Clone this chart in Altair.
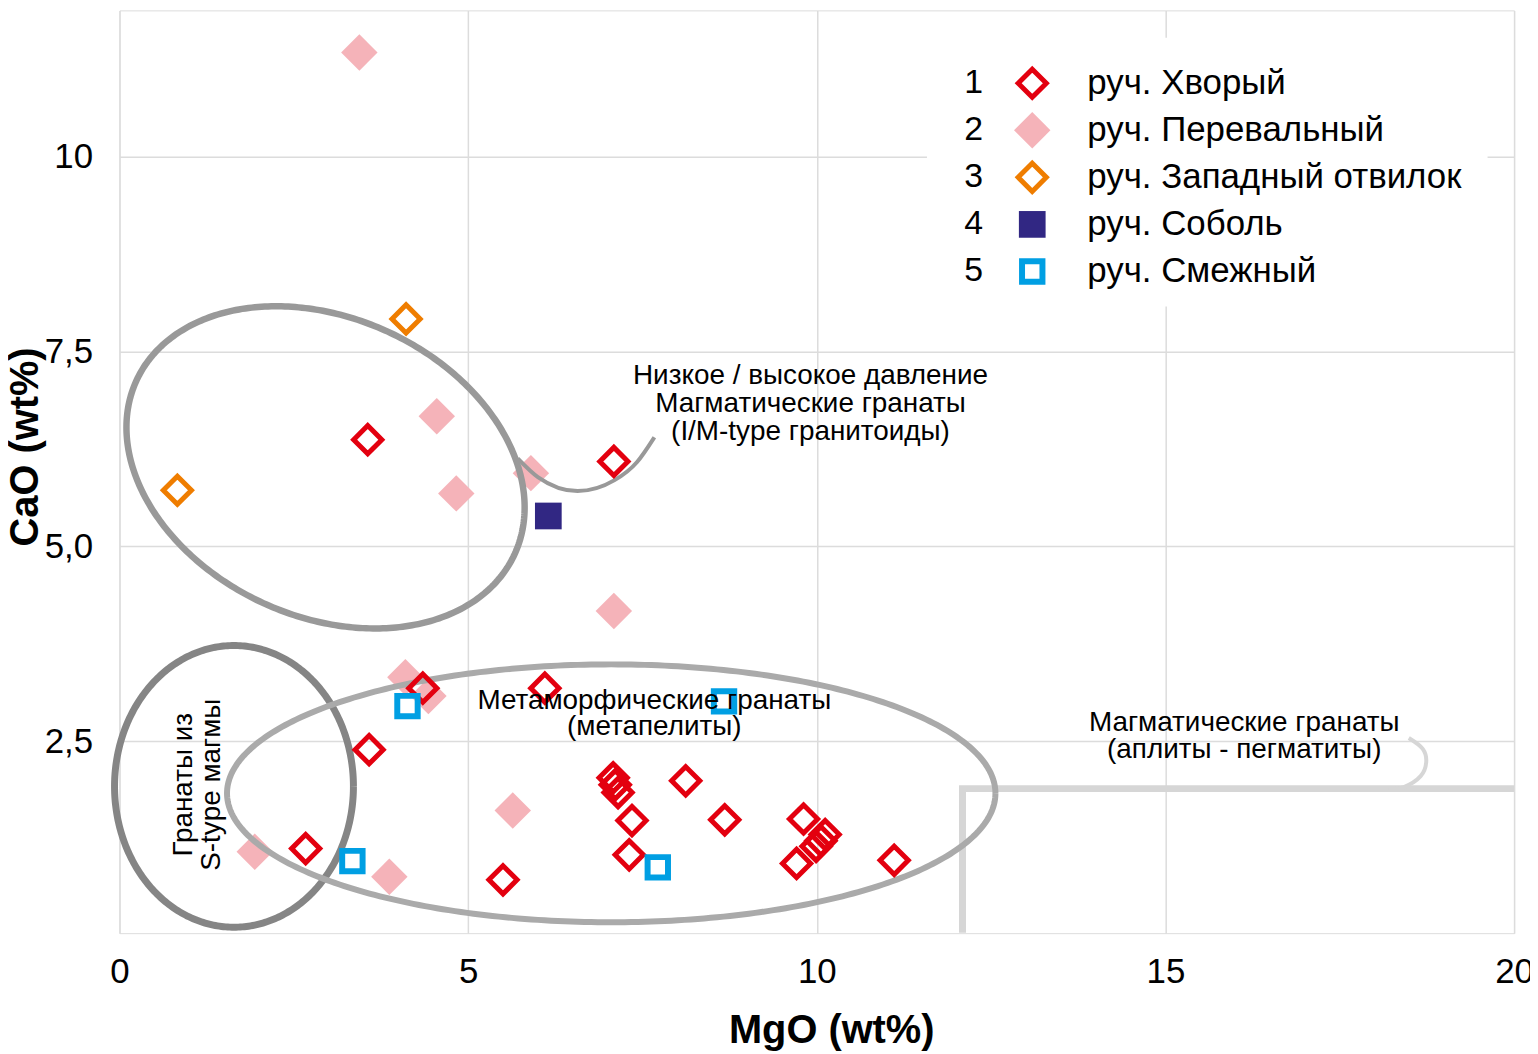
import altair as alt
import numpy as np
import pandas as pd

# ---------------- values ----------------
# 1 руч. Хворый
khv_mgo = [3.56, 7.09, 6.10, 4.35, 3.58, 2.67, 5.50, 7.08, 7.11, 7.15, 7.35, 7.31,
           8.12, 8.68, 9.81, 10.12, 10.06, 9.99, 9.71, 11.11]
khv_cao = [6.37, 6.09, 3.18, 3.18, 2.39, 1.12, 0.72, 2.03, 1.94, 1.84, 1.48, 1.04,
           1.99, 1.49, 1.50, 1.30, 1.22, 1.15, 0.93, 0.97]
# 2 руч. Перевальный
per_mgo = [3.44, 4.55, 4.83, 5.90, 7.09, 4.10, 4.43, 5.64, 3.87, 1.94]
per_cao = [11.34, 6.67, 5.68, 5.94, 4.17, 3.32, 3.08, 1.61, 0.76, 1.08]
# 3 руч. Западный отвилок
zap_mgo = [4.11, 0.83]
zap_cao = [7.92, 5.72]
# 4 руч. Соболь
sob_mgo = [6.15]
sob_cao = [5.39]
# 5 руч. Смежный
smz_mgo = [4.13, 8.67, 3.34, 7.72]
smz_cao = [2.95, 3.01, 0.96, 0.88]

legend_nums = ["1", "2", "3", "4", "5"]
legend_names = ["руч. Хворый", "руч. Перевальный", "руч. Западный отвилок",
                "руч. Соболь", "руч. Смежный"]

x_ticks = [0, 5, 10, 15, 20]
y_ticks = [2.5, 5, 7.5, 10]

# field outlines (data units): centre and two conjugate semi-diameters
ell_upper = dict(cx=2.955, cy=6.014, ux=2.712, uy=-1.114, vx=-0.893, vy=-1.742)
ell_stype = dict(cx=1.642, cy=1.919, ux=1.713, uy=0.0, vx=0.0, vy=1.808)
ell_meta = dict(cx=7.052, cy=1.830, ux=5.510, uy=0.0, vx=0.0, vy=1.655)

# leader lines and aplite-pegmatite field boundary
lead_mgo = [5.71, 6.00, 6.57, 7.10, 7.42, 7.67]
lead_cao = [6.13, 5.89, 5.71, 5.85, 6.08, 6.40]
hook_mgo = [18.49, 18.69, 18.74, 18.66, 18.42, 18.20]
hook_cao = [2.54, 2.40, 2.23, 2.05, 1.91, 1.89]
field_mgo = [12.09, 12.09, 20.0]
field_cao = [0.04, 1.89, 1.89]

ann_text = [
    "Низкое / высокое давление\nМагматические гранаты\n(I/M-type гранитоиды)",
    "Метаморфические гранаты\n(метапелиты)",
    "Магматические гранаты\n(аплиты - пегматиты)",
    "Гранаты из\nS-type магмы",
]
# position of the first line of each note
ann_mgo = [9.91, 7.67, 16.13, 0.93]
ann_cao = [7.18, 3.02, 2.73, 1.94]

FONT = "Liberation Sans"

# ---------------- scales / axes ----------------
xs = alt.Scale(domain=[0, 20], nice=False, zero=False)
ys = alt.Scale(domain=[0.035, 11.88], nice=False, zero=False)

xaxis = alt.Axis(
    title="MgO (wt%)", values=x_ticks, format="d", ticks=False, domain=False,
    grid=True, gridColor="#dcdcdc", gridWidth=1.5,
    labelFont=FONT, labelFontSize=35, labelColor="#000", labelPadding=22,
    labelFlush=False, labelOverlap=False,
    titleFont=FONT, titleFontSize=40, titleFontWeight="bold", titleColor="#000",
    titleX=715, titleY=110, titleBaseline="alphabetic", titleAlign="center",
)
yaxis = alt.Axis(
    title="CaO (wt%)", values=y_ticks, ticks=False, domain=False,
    labelExpr="datum.value == 10 ? '10' : replace(format(datum.value, '.1f'), '.', ',')",
    grid=True, gridColor="#dcdcdc", gridWidth=1.5,
    labelFont=FONT, labelFontSize=35, labelColor="#000", labelPadding=27,
    labelFlush=False, labelOverlap=False,
    titleFont=FONT, titleFontSize=40, titleFontWeight="bold", titleColor="#000",
    titleAngle=270, titleX=-94, titleY=438, titleBaseline="middle", titleAlign="center",
)


def X(f="mgo"):
    return alt.X(f"{f}:Q", scale=xs, axis=xaxis)


def Y(f="cao"):
    return alt.Y(f"{f}:Q", scale=ys, axis=yaxis)


def ellipse_df(p, n=360):
    t = np.linspace(0, 2 * np.pi, n + 1)
    return pd.DataFrame({
        "mgo": p["cx"] + p["ux"] * np.cos(t) + p["vx"] * np.sin(t),
        "cao": p["cy"] + p["uy"] * np.cos(t) + p["vy"] * np.sin(t),
        "i": np.arange(n + 1),
    })


def path_df(xv, yv):
    return pd.DataFrame({"mgo": xv, "cao": yv, "i": list(range(len(xv)))})


def line_layer(df, color, width, interp="linear"):
    return alt.Chart(df).mark_line(
        color=color, strokeWidth=width, interpolate=interp, strokeCap="butt",
        strokeJoin="miter", clip=False
    ).encode(x=X(), y=Y(), order="i:Q")


styles = [
    dict(shape="diamond", filled=False, color="#e3000f", size=800, sw=5),
    dict(shape="diamond", filled=True, color="#f5b3b9", size=1340, sw=0),
    dict(shape="diamond", filled=False, color="#ef7d00", size=800, sw=5),
    dict(shape="square", filled=True, color="#312783", size=720, sw=0),
    dict(shape="square", filled=False, color="#009fe3", size=420, sw=6),
]
series_x = [khv_mgo, per_mgo, zap_mgo, sob_mgo, smz_mgo]
series_y = [khv_cao, per_cao, zap_cao, sob_cao, smz_cao]


def point_layer(df, st):
    if st["filled"]:
        m = alt.Chart(df).mark_point(shape=st["shape"], filled=True, fill=st["color"],
                                     fillOpacity=1, strokeWidth=0, size=st["size"], opacity=1)
    else:
        m = alt.Chart(df).mark_point(shape=st["shape"], filled=False, stroke=st["color"],
                                     strokeWidth=st["sw"], strokeOpacity=1, size=st["size"],
                                     opacity=1, fill=None)
    return m.encode(x=X(), y=Y())


# ---------------- layers ----------------
layers = []
layers.append(line_layer(path_df(field_mgo, field_cao), "#d6d6d6", 7))
layers.append(line_layer(path_df(hook_mgo, hook_cao), "#d6d6d6", 4, "cardinal"))

data_dfs = [pd.DataFrame({"mgo": a, "cao": b}) for a, b in zip(series_x, series_y)]
# pink (filled) symbols lie beneath the outlines
layers.append(point_layer(data_dfs[1], styles[1]))

layers.append(line_layer(ellipse_df(ell_stype), "#858585", 7))
layers.append(line_layer(ellipse_df(ell_meta), "#aaaaaa", 6))
layers.append(line_layer(ellipse_df(ell_upper), "#999999", 6.5))
layers.append(line_layer(path_df(lead_mgo, lead_cao), "#999999", 4, "monotone"))

for k in [0, 2, 3, 4]:
    layers.append(point_layer(data_dfs[k], styles[k]))

# legend box (manual, numbered as in the figure)
box = pd.DataFrame({"x1": [11.58], "x2": [19.62], "y1": [8.08], "y2": [11.53]})
layers.append(alt.Chart(box).mark_rect(fill="white", stroke=None, strokeWidth=0).encode(
    x=alt.X("x1:Q", scale=xs, axis=xaxis), x2="x2:Q",
    y=alt.Y("y1:Q", scale=ys, axis=yaxis), y2="y2:Q"))

row0, step = 10.945, 0.604
leg = pd.DataFrame({
    "num": legend_nums,
    "name": legend_names,
    "cao": [row0 - step * i for i in range(5)],
})
leg["mgo_num"] = 12.25
leg["mgo_sym"] = 13.09
leg["mgo_lab"] = 13.88
for k in range(5):
    d = leg.iloc[[k]][["mgo_sym", "cao"]].rename(columns={"mgo_sym": "mgo"})
    layers.append(point_layer(d, styles[k]))
layers.append(alt.Chart(leg).mark_text(font=FONT, fontSize=34, align="center",
                                       baseline="middle", color="#000").encode(
    x=X("mgo_num"), y=Y(), text="num:N"))
layers.append(alt.Chart(leg).mark_text(font=FONT, fontSize=35, align="left",
                                       baseline="middle", color="#000").encode(
    x=X("mgo_lab"), y=Y(), text="name:N"))

# annotations
ann = pd.DataFrame({"t": ann_text, "mgo": ann_mgo, "cao": ann_cao})
for k, lh in zip(range(3), [28, 27, 27]):
    layers.append(alt.Chart(ann.iloc[[k]]).mark_text(
        font=FONT, fontSize=28, lineHeight=lh, lineBreak="\n", align="center",
        baseline="middle", color="#000").encode(x=X(), y=Y(), text="t:N"))
layers.append(alt.Chart(ann.iloc[[3]]).mark_text(
    font=FONT, fontSize=28, lineHeight=28, lineBreak="\n", align="center",
    baseline="middle", angle=270, color="#000").encode(x=X(), y=Y(), text="t:N"))

chart = alt.layer(*layers).properties(
    width=1401, height=927,
    autosize=alt.AutoSizeParams(type="none"),
    padding={"left": 112, "top": 0, "right": 16, "bottom": 118},
    background="white",
).configure_view(stroke="#222222", strokeWidth=2).configure(font=FONT)

chart.save("out.html", embed_options={"renderer": "svg", "actions": False})
